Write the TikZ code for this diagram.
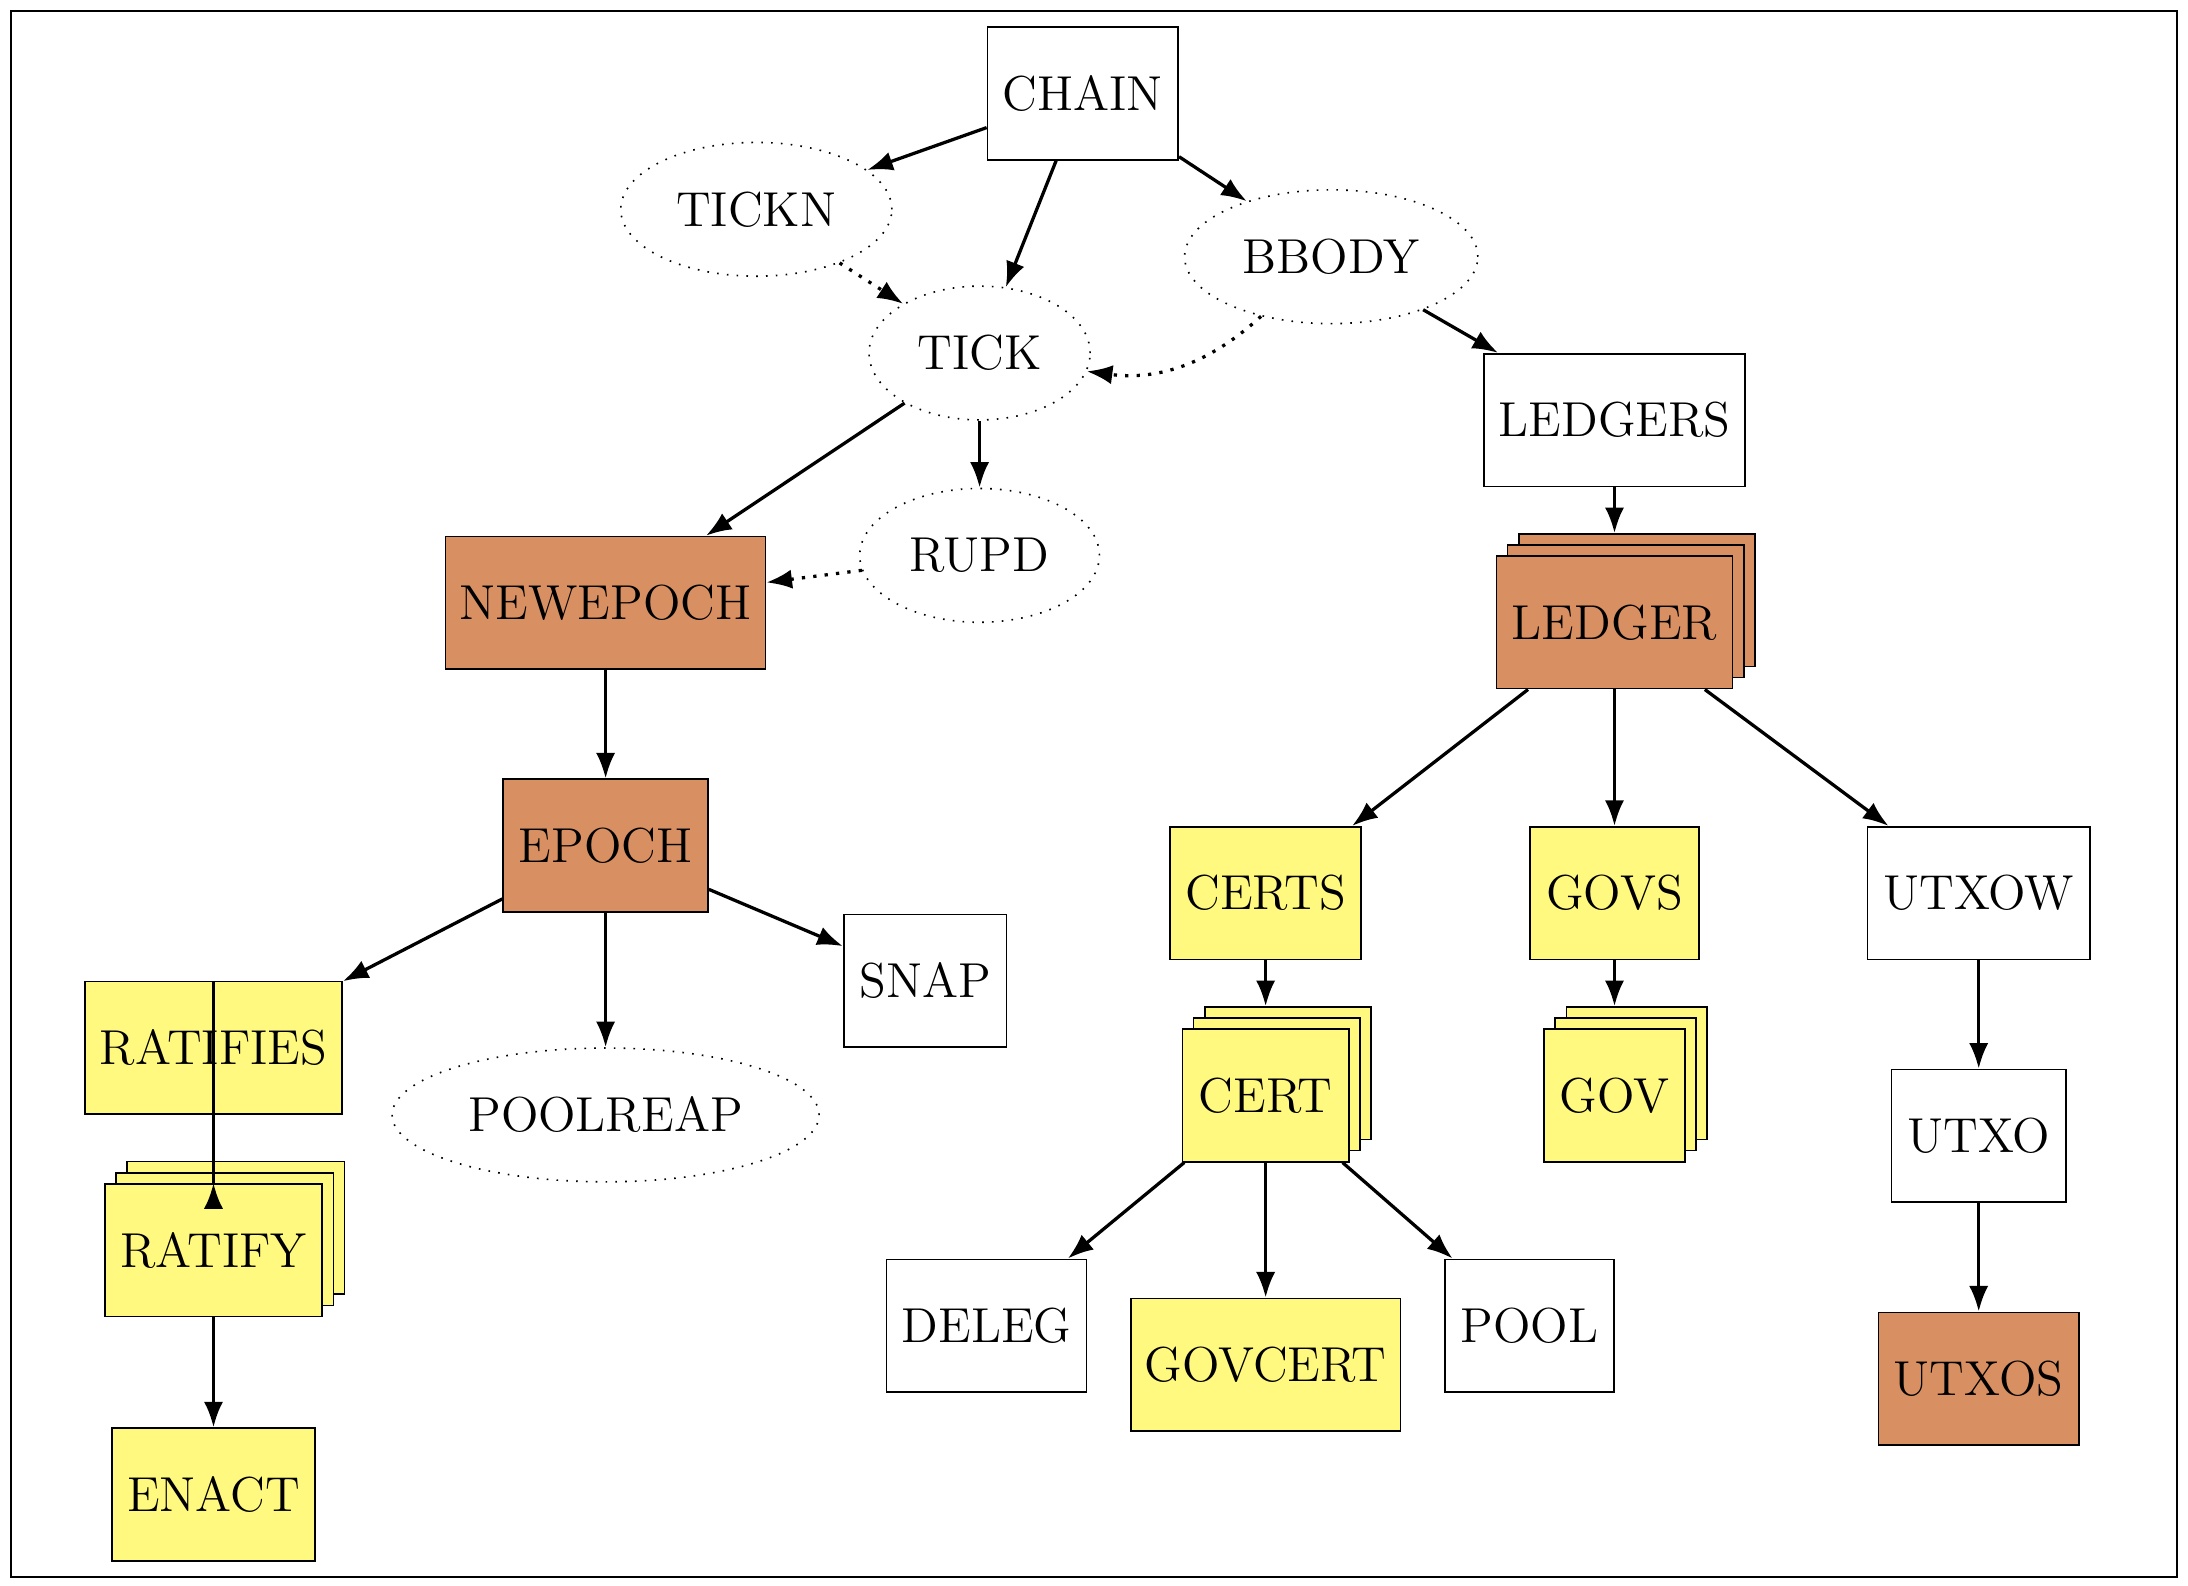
\documentclass[tikz,border=0pt]{standalone}
\usepackage{tikz}
\usetikzlibrary{shapes.geometric,shadows,arrows.meta}
\definecolor{rule}{HTML}{D89063}
\definecolor{sub}{HTML}{FFF97F}

\tikzset{
  sys/.style={draw,rectangle,minimum height=1.14cm,inner sep=0pt,font=\large},
  ev/.style={draw,dotted,ellipse,minimum height=1.15cm,inner sep=0pt,font=\large},
  stk/.style={double copy shadow={shadow xshift=0.096cm,shadow yshift=0.096cm}},
  bro/.style={fill=rule},
  yel/.style={fill=sub},
  edge/.style={-{Latex[length=2.2mm]},thick},
}

\begin{document}
\begin{tikzpicture}[x=0.012cm,y=-0.012cm]
        \useasboundingbox (0,0) rectangle (1568,1136);
        \draw (8,8) rectangle (1560,1130);

        \path
        (776,67) node[sys,minimum width=1.64cm](chain) {CHAIN}
        (542,150) node[ev,minimum width=2.33cm](tickn) {TICKN}
        (954,184) node[ev,minimum width=2.52cm](bbody) {BBODY}
        (702,253) node[ev,minimum width=1.9cm](tick) {TICK}
        (1157,301) node[sys,minimum width=2.24cm](ledgers) {LEDGERS}
        (702,398) node[ev,minimum width=2.06cm](rupd) {RUPD}
        (434,432) node[sys,bro,minimum width=2.75cm](newepoch) {NEWEPOCH}
        (1157,446) node[sys,bro,stk,minimum width=2.03cm](ledger) {LEDGER}
        ;

        \path
        (434,606) node[sys,bro,minimum width=1.76cm](epoch) {EPOCH}
        (153,751) node[sys,yel,minimum width=2.21cm](ratifies) {RATIFIES}
        (663,703) node[sys,minimum width=1.4cm](snap) {SNAP}
        (434,799) node[ev,minimum width=3.67cm](poolreap) {POOLREAP}
        (153,896) node[sys,yel,stk,minimum width=1.87cm](ratify) {RATIFY}
        (153,1071) node[sys,yel,minimum width=1.75cm](enact) {ENACT}
        ;

        \path
        (907,640) node[sys,yel,minimum width=1.64cm](certs) {CERTS}
        (1157,640) node[sys,yel,minimum width=1.45cm](govs) {GOVS}
        (1418,640) node[sys,minimum width=1.91cm](utxow) {UTXOW}
        (907,785) node[sys,yel,stk,minimum width=1.43cm](cert) {CERT}
        (1157,785) node[sys,yel,stk,minimum width=1.21cm](gov) {GOV}
        (1418,814) node[sys,minimum width=1.5cm](utxo) {UTXO}
        (707,950) node[sys,minimum width=1.72cm](deleg) {DELEG}
        (907,978) node[sys,yel,minimum width=2.32cm](govcert) {GOVCERT}
        (1096,950) node[sys,minimum width=1.45cm](pool) {POOL}
        (1418,988) node[sys,bro,minimum width=1.72cm](utxos) {UTXOS}
        ;

        \draw[edge] (chain) -- (tickn);
        \draw[edge] (chain) -- (tick);
        \draw[edge] (chain) -- (bbody);
        \draw[edge,dotted] (tickn) -- (tick);
        \draw[edge,dotted] (bbody) to[bend left=25] (tick);
        \draw[edge] (bbody) -- (ledgers);
        \draw[edge] (tick) -- (newepoch);
        \draw[edge] (tick) -- (rupd);
        \draw[edge,dotted] (rupd) -- (newepoch);
        \draw[edge] (newepoch) -- (epoch);
        \draw[edge] (epoch) -- (ratifies);
        \draw[edge] (epoch) -- (poolreap);
        \draw[edge] (epoch) -- (snap);
        \draw[edge] (ratifies) -- ++(0,-1) |- (ratify.north);
        \draw[edge] (ratify) -- (enact);

        \draw[edge] (ledgers) -- ([yshift=0.19cm]ledger.north);
        \draw[edge] (ledger) -- (certs);
        \draw[edge] (ledger) -- (govs);
        \draw[edge] (ledger) -- (utxow);
        \draw[edge] (certs) -- ([yshift=0.19cm]cert.north);
        \draw[edge] (govs) -- ([yshift=0.19cm]gov.north);
        \draw[edge] (cert) -- (deleg);
        \draw[edge] (cert) -- (govcert);
        \draw[edge] (cert) -- (pool);
        \draw[edge] (utxow) -- (utxo);
        \draw[edge] (utxo) -- (utxos);
      \end{tikzpicture}
\end{document}
